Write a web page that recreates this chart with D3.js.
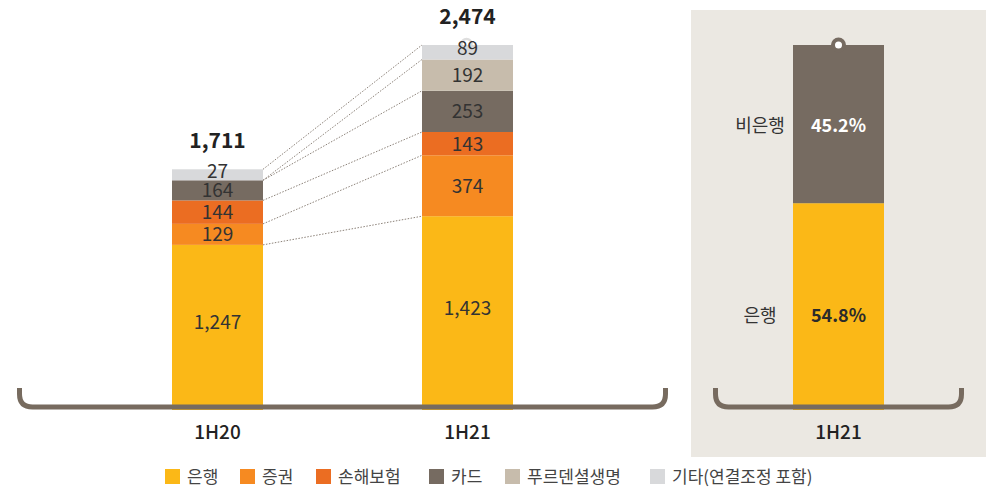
<!DOCTYPE html>
<html>
<head>
<meta charset="utf-8">
<script src="https://cdn.jsdelivr.net/npm/d3@7"></script>
<style>
  body { margin: 0; background: #fff; }
  svg { display: block; font-family: "Noto Sans CJK KR", "Noto Sans", sans-serif; }
</style>
</head>
<body>
<div id="chart"></div>
<script>
// data
const periods = ["1H20", "1H21"];
const seriesKeys = ["은행", "증권", "손해보험", "카드", "푸르덴셜생명", "기타(연결조정 포함)"];
const bank = [1247, 1423];
const securities = [129, 374];
const insurance = [144, 143];
const card = [164, 253];
const prudential = [0, 192];
const other = [27, 89];
const totals = [1711, 2474];

const sharePeriod = "1H21";
const shareKeys = ["은행", "비은행"];
const shareValues = [54.8, 45.2];

const colors = ["#fbb817", "#f68a21", "#eb6d22", "#766b61", "#c7bcac", "#d8d9db"];

const W = 993, H = 488;
const baseY = 410;
const barW = 91;
const minH = 11; // smallest visible segment

const svg = d3.select("#chart").append("svg")
  .attr("width", W)
  .attr("height", H);

// right panel background
svg.append("rect")
  .attr("x", 691).attr("y", 10)
  .attr("width", 295).attr("height", 447)
  .attr("fill", "#ebe8e2");

// table for stack
const rows = periods.map(function(p, i) {
  return {period: p, "은행": bank[i], "증권": securities[i], "손해보험": insurance[i],
    "카드": card[i], "푸르덴셜생명": prudential[i], "기타(연결조정 포함)": other[i]};
});
const stacked = d3.stack().keys(seriesKeys)(rows);

const x = d3.scalePoint().domain(periods).range([217.5, 467.5]);
const y = d3.scaleLinear().domain([0, d3.max(totals)]).range([448, 45]);

// visible spans: walk each bar from the top down so tiny segments keep a minimum height
periods.forEach(function(p, i) {
  let cur = y(totals[i]);
  for (let k = stacked.length - 1; k >= 0; k--) {
    const d = stacked[k][i];
    if (d[1] - d[0] <= 0) { d.top = cur; d.bot = cur; continue; }
    d.top = cur;
    d.bot = k == 0 ? baseY : Math.max(y(d[0]), cur + minH);
    cur = d.bot;
  }
});

// dotted connectors between the bars
stacked.forEach(function(s) {
  svg.append("line")
    .attr("x1", x(periods[0]) + barW / 2)
    .attr("y1", s[0].top)
    .attr("x2", x(periods[1]) - barW / 2)
    .attr("y2", s[1].top)
    .attr("stroke", "#8c8279")
    .attr("stroke-width", 1)
    .attr("stroke-dasharray", "1.5,1.5");
});

// small ring on top of 1H21 bar
svg.append("circle")
  .attr("cx", x(periods[1]) - 1).attr("cy", y(totals[1]) - 1)
  .attr("r", 5)
  .attr("fill", "#fff")
  .attr("stroke", "#dedede")
  .attr("stroke-width", 2.5);

const groups = svg.selectAll("g.series")
  .data(stacked)
  .enter().append("g")
  .attr("fill", function(d, i) { return colors[i]; });

groups.selectAll("rect")
  .data(function(d) { return d; })
  .enter().append("rect")
  .attr("x", function(d) { return x(d.data.period) - barW / 2; })
  .attr("y", function(d) { return d.top; })
  .attr("width", barW)
  .attr("height", function(d) { return d.bot - d.top; });

// segment labels
stacked.forEach(function(s) {
  s.forEach(function(d) {
    const v = d[1] - d[0];
    if (v <= 0) return;
    let mid = (d.top + d.bot) / 2;
    if (d[0] == 0) mid -= 5;
    if (d.bot - d.top < 16) mid -= 4;
    svg.append("text")
      .attr("x", x(d.data.period))
      .attr("y", mid + 7)
      .attr("text-anchor", "middle")
      .attr("font-size", 19)
      .attr("fill", "#333")
      .text(d3.format(",")(v));
  });
});

// totals
periods.forEach(function(p, i) {
  svg.append("text")
    .attr("x", x(p))
    .attr("y", y(totals[i]) - 21)
    .attr("text-anchor", "middle")
    .attr("font-size", 21)
    .attr("font-weight", "bold")
    .attr("fill", "#222")
    .text(d3.format(",")(totals[i]));
});

// share bar (right panel)
const cx2 = 838.5;
const y2 = d3.scaleLinear().domain([0, 100]).range([395, 45]);
let acc = 0;
shareValues.forEach(function(v, i) {
  const top = y2(acc + v);
  const bot = acc == 0 ? baseY : y2(acc);
  svg.append("rect")
    .attr("x", cx2 - barW / 2).attr("y", top)
    .attr("width", barW).attr("height", bot - top)
    .attr("fill", i == 0 ? colors[0] : colors[3]);
  const mid = i == 0 ? 315 : 125;
  svg.append("text")
    .attr("x", cx2).attr("y", mid + 7)
    .attr("text-anchor", "middle")
    .attr("font-size", 18)
    .attr("font-weight", "bold")
    .attr("fill", i == 0 ? "#2b2b2b" : "#fff")
    .text(v.toFixed(1) + "%");
  svg.append("text")
    .attr("x", 760).attr("y", mid + 7)
    .attr("text-anchor", "middle")
    .attr("font-size", 18)
    .attr("fill", "#333")
    .text(shareKeys[i]);
  acc += v;
});

// pin on share bar
svg.append("circle").attr("cx", cx2).attr("cy", 45).attr("r", 7.5).attr("fill", colors[3]);
svg.append("circle").attr("cx", cx2).attr("cy", 45).attr("r", 3.5).attr("fill", "#fff");

// brackets
function bracket(x0, x1) {
  const by = 407, r = 13, topY = 388;
  svg.append("path")
    .attr("d", "M" + x0 + "," + topY + " V" + (by - r) + " Q" + x0 + "," + by + " " + (x0 + r) + "," + by +
      " H" + (x1 - r) + " Q" + x1 + "," + by + " " + x1 + "," + (by - r) + " V" + topY)
    .attr("fill", "none")
    .attr("stroke", "#776b5f")
    .attr("stroke-width", 5);
}
bracket(19.5, 665.5);
bracket(715.5, 961.5);

// x labels
periods.concat([sharePeriod]).forEach(function(p, i) {
  svg.append("text")
    .attr("x", i < 2 ? x(p) : cx2)
    .attr("y", 439)
    .attr("text-anchor", "middle")
    .attr("font-size", 19)
    .attr("font-weight", 500)
    .attr("fill", "#222")
    .text(p);
});

// legend
const legendX = [165, 240, 316, 429, 505, 650];
seriesKeys.forEach(function(k, i) {
  svg.append("rect")
    .attr("x", legendX[i]).attr("y", 469)
    .attr("width", 15).attr("height", 15)
    .attr("fill", colors[i]);
  svg.append("text")
    .attr("x", legendX[i] + 22).attr("y", 483)
    .attr("font-size", 17)
    .attr("fill", "#444")
    .text(k);
});
</script>
</body>
</html>
